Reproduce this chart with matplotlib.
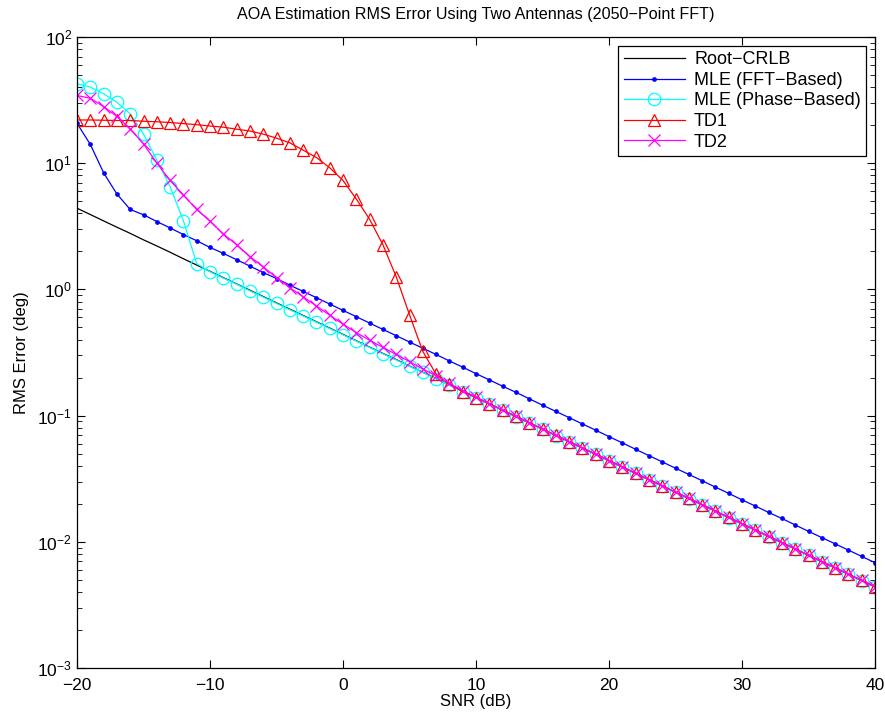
import numpy as np
import matplotlib
matplotlib.use("Agg")
import matplotlib.pyplot as plt
from matplotlib.ticker import LogLocator, NullFormatter

plt.rcParams['font.family'] = ['Liberation Sans', 'DejaVu Sans']

snr = np.arange(-20, 41)

crlb = [4.40, 3.92, 3.49, 3.11, 2.78, 2.47, 2.21, 1.97, 1.75, 1.56,
        1.39, 1.24, 1.105, 0.985, 0.878, 0.782, 0.697, 0.622, 0.554, 0.494,
        0.440, 0.392, 0.349, 0.311, 0.278, 0.247, 0.221, 0.197, 0.175, 0.156,
        0.139, 0.124, 0.1105, 0.0985, 0.0878, 0.0782, 0.0697, 0.0622, 0.0554, 0.0494,
        0.0440, 0.0392, 0.0349, 0.0311, 0.0278, 0.0247, 0.0221, 0.0197, 0.0175, 0.0156,
        0.0139, 0.0124, 0.01105, 0.00985, 0.00878, 0.00782, 0.00697, 0.00622, 0.00554, 0.00494,
        0.00440]

mle_fft = [20.7, 14.1, 8.4, 5.7, 4.3, 3.9, 3.45, 3.07, 2.72, 2.43,
           2.15, 1.93, 1.72, 1.53, 1.36, 1.22, 1.08, 0.965, 0.86, 0.766,
           0.682, 0.608, 0.541, 0.482, 0.430, 0.383, 0.342, 0.305, 0.271, 0.242,
           0.215, 0.192, 0.171, 0.153, 0.136, 0.121, 0.108, 0.0964, 0.0859, 0.0766,
           0.0682, 0.0608, 0.0541, 0.0482, 0.0430, 0.0383, 0.0342, 0.0305, 0.0271, 0.0242,
           0.0215, 0.0192, 0.0171, 0.0153, 0.0136, 0.0121, 0.0108, 0.00964, 0.00859, 0.00766,
           0.00683]

mle_phase = [42.7, 40.1, 35.5, 30.4, 24.6, 17.0, 10.6, 6.5, 3.5, 1.60,
             1.38, 1.23, 1.10, 0.975, 0.87, 0.775, 0.69, 0.617, 0.55, 0.49,
             0.437, 0.39, 0.347, 0.309, 0.276, 0.246, 0.22, 0.196, 0.174, 0.155,
             0.138, 0.123, 0.110, 0.098, 0.0874, 0.0779, 0.0694, 0.0619, 0.0552, 0.0492,
             0.0438, 0.039, 0.0348, 0.031, 0.0277, 0.0246, 0.022, 0.0196, 0.0174, 0.0155,
             0.0138, 0.0123, 0.011, 0.0098, 0.00875, 0.0078, 0.00695, 0.0062, 0.00552, 0.00492,
             0.00438]

td1 = [22.0, 22.0, 21.9, 21.8, 21.8, 21.5, 21.3, 21.0, 20.6, 20.2,
       19.7, 19.3, 18.6, 18.0, 17.0, 15.8, 14.5, 12.7, 11.1, 9.2,
       7.3, 5.2, 3.6, 2.26, 1.26, 0.63, 0.323, 0.213, 0.177, 0.155,
       0.139, 0.124, 0.1105, 0.0985, 0.0878, 0.0782, 0.0697, 0.0622, 0.0554, 0.0494,
       0.0440, 0.0392, 0.0349, 0.0311, 0.0278, 0.0247, 0.0221, 0.0197, 0.0175, 0.0156,
       0.0139, 0.0124, 0.01105, 0.00985, 0.00878, 0.00782, 0.00697, 0.00622, 0.00554, 0.00494,
       0.00440]

td2 = [34.4, 32.7, 28.1, 23.5, 18.7, 14.2, 10.05, 7.3, 5.6, 4.3,
       3.47, 2.75, 2.26, 1.82, 1.51, 1.24, 1.03, 0.875, 0.74, 0.625,
       0.53, 0.455, 0.395, 0.347, 0.305, 0.268, 0.234, 0.207, 0.18, 0.158,
       0.14, 0.124, 0.1105, 0.0985, 0.0878, 0.0782, 0.0697, 0.0622, 0.0554, 0.0494,
       0.0440, 0.0392, 0.0349, 0.0311, 0.0278, 0.0247, 0.0221, 0.0197, 0.0175, 0.0156,
       0.0139, 0.0124, 0.01105, 0.00985, 0.00878, 0.00782, 0.00697, 0.00622, 0.00554, 0.00494,
       0.00440]

fig = plt.figure(figsize=(8.85, 7.15), dpi=100)
ax = fig.add_axes([77/885, 1 - 668/715, 798/885, 631/715])

lw = 0.9
ax.semilogy(snr, crlb, color='k', lw=lw, label='Root\u2212CRLB')
ax.semilogy(snr, mle_fft, color='#0000ff', lw=lw, marker='o', ms=2.4,
            mfc='#0000ff', mec='#0000ff', label='MLE (FFT\u2212Based)')
ax.semilogy(snr, mle_phase, color='#00ffff', lw=lw, marker='o', ms=9, mfc='none',
            mec='#00ffff', mew=0.9, label='MLE (Phase\u2212Based)')
ax.semilogy(snr, td1, color='#ff0000', lw=lw, marker='^', ms=9, mfc='none',
            mec='#ff0000', mew=0.9, label='TD1')
ax.semilogy(snr, td2, color='#ff00ff', lw=lw, marker='x', ms=8, mew=0.9, label='TD2')

ax.set_xlim(-20, 40)
ax.set_ylim(1e-3, 1e2)
ax.set_xticks(np.arange(-20, 41, 10))
ax.yaxis.set_major_locator(LogLocator(base=10, numticks=10))
ax.yaxis.set_minor_locator(LogLocator(base=10, subs=np.arange(2, 10), numticks=20))
ax.yaxis.set_minor_formatter(NullFormatter())
ax.tick_params(which='both', direction='in', top=True, right=True, labelsize=12.5)
ax.tick_params(axis='x', which='major', pad=7)
ax.tick_params(which='major', length=6)
ax.tick_params(which='minor', length=3.5)
for s in ax.spines.values():
    s.set_linewidth(0.9)

ax.set_xlabel('SNR (dB)', fontsize=12, labelpad=1)
ax.set_ylabel('RMS Error (deg)', fontsize=12, labelpad=6)
ax.set_title('AOA Estimation RMS Error Using Two Antennas (2050\u2212Point FFT)',
             fontsize=11.6, pad=13)

leg = ax.legend(loc='upper right', bbox_to_anchor=(0.989, 0.986), borderaxespad=0,
                fontsize=13, fancybox=False, framealpha=1, edgecolor='k',
                handlelength=3.4, handletextpad=0.5, labelspacing=0.2, borderpad=0.3)
leg.get_frame().set_linewidth(0.9)

fig.savefig('out.png', dpi=100)
